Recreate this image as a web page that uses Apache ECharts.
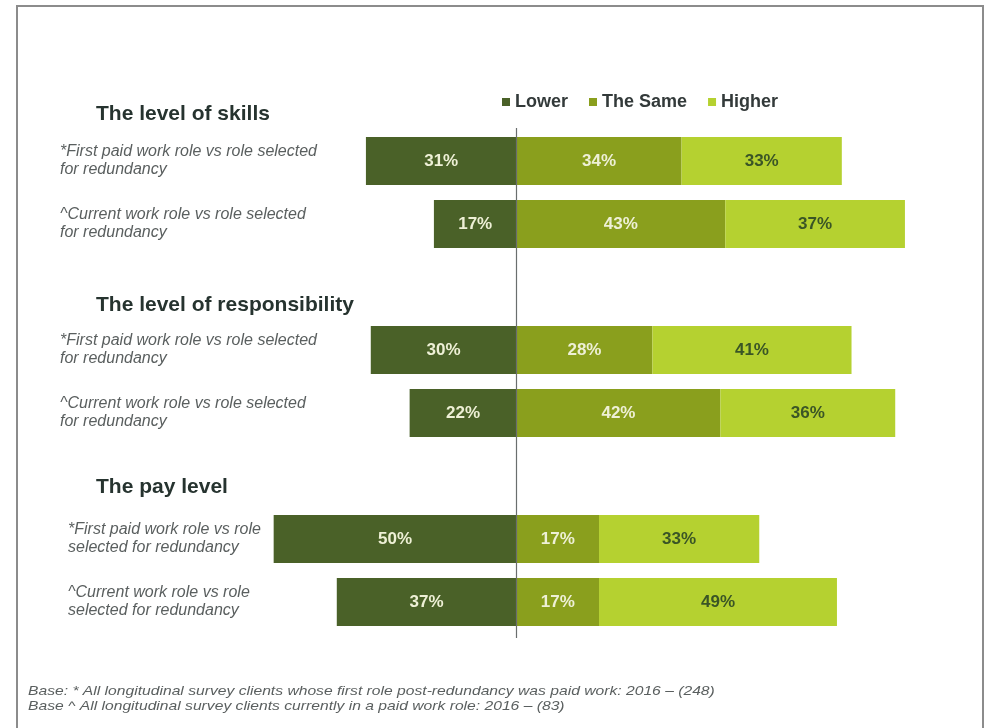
<!DOCTYPE html>
<html>
<head>
<meta charset="utf-8">
<script src="https://cdn.jsdelivr.net/npm/echarts@6/dist/echarts.min.js"></script>
<style>
  html, body { margin: 0; padding: 0; background: #ffffff; }
  #chart { width: 987px; height: 728px; }
</style>
</head>
<body>
<div id="chart"></div>
<script>
// Row labels (empty strings are spacer rows between the three sections)
const rowLabels = [
  '*First paid work role vs role selected\nfor redundancy',
  '^Current work role vs role selected\nfor redundancy',
  '',
  '*First paid work role vs role selected\nfor redundancy',
  '^Current work role vs role selected\nfor redundancy',
  '',
  '*First paid work role vs role\nselected for redundancy',
  '^Current work role vs role\nselected for redundancy'
];
const rowKeys = ['skills-first', 'skills-current', 'gap-1', 'resp-first', 'resp-current', 'gap-2', 'pay-first', 'pay-current'];

// Percentages per response
const lowerValues  = [31, 17, null, 30, 22, null, 50, 37];
const sameValues   = [34, 43, null, 28, 42, null, 17, 17];
const higherValues = [33, 37, null, 41, 36, null, 33, 49];

const seriesNames = ['Lower', 'The Same', 'Higher'];
const sectionTitles = ['The level of skills', 'The level of responsibility', 'The pay level'];
const baseNotes = [
  'Base: * All longitudinal survey clients whose first role post-redundancy was paid work: 2016 \u2013 (248)',
  'Base ^ All longitudinal survey clients currently in a paid work role: 2016 \u2013 (83)'
];

const COLORS = { lower: '#4a6128', same: '#8a9f1d', higher: '#b5d130' };
const LIGHT_LABEL = '#eef0d6';
const DARK_LABEL = '#3a5526';
const FONT = 'Liberation Sans, Arial, sans-serif';

const chart = echarts.init(document.getElementById('chart'), null, { renderer: 'canvas' });

function valueLabel(color) {
  return {
    show: true,
    position: 'inside',
    color: color,
    fontFamily: FONT,
    fontWeight: 'bold',
    fontSize: 17,
    formatter: p => (p.value == null ? '' : Math.abs(p.value) + '%')
  };
}

const option = {
  backgroundColor: '#ffffff',
  animation: false,
  legend: {
    data: seriesNames,
    left: 497,
    top: 88,
    itemWidth: 8,
    itemHeight: 8,
    itemGap: 21,
    icon: 'rect',
    textStyle: {
      fontFamily: FONT,
      fontWeight: 'bold',
      fontSize: 18,
      color: '#333a3a'
    }
  },
  grid: {
    left: 60,
    right: 33.5,
    top: 129.5,
    bottom: 94.5,
    containLabel: false,
    outerBoundsMode: 'none'
  },
  xAxis: {
    type: 'value',
    min: -94,
    max: 90,
    show: false
  },
  yAxis: {
    type: 'category',
    inverse: true,
    data: rowKeys,
    axisLine: { show: false, onZero: false },
    axisTick: { show: false },
    splitLine: { show: false },
    axisLabel: {
      show: true,
      align: 'left',
      margin: 0,
      interval: 0,
      formatter: (v, i) => {
        const txt = rowLabels[i];
        if (!txt) return '';
        // the pay level rows sit slightly further in
        const style = i >= 6 ? 'p' : 'n';
        return txt.split('\n').map(line => '{' + style + '|' + line + '}').join('\n');
      },
      rich: {
        n: {
          fontFamily: FONT,
          fontStyle: 'italic',
          fontSize: 16,
          lineHeight: 18,
          color: '#5a5f5f'
        },
        p: {
          fontFamily: FONT,
          fontStyle: 'italic',
          fontSize: 16,
          lineHeight: 18,
          color: '#5a5f5f',
          padding: [0, 0, 0, 8]
        }
      }
    }
  },
  series: [
    {
      name: 'Lower',
      type: 'bar',
      stack: 'share',
      barWidth: 48,
      itemStyle: { color: COLORS.lower },
      label: valueLabel(LIGHT_LABEL),
      data: lowerValues.map(v => (v == null ? null : -v))
    },
    {
      name: 'The Same',
      type: 'bar',
      stack: 'share',
      barWidth: 48,
      itemStyle: { color: COLORS.same },
      label: valueLabel(LIGHT_LABEL),
      data: sameValues
    },
    {
      name: 'Higher',
      type: 'bar',
      stack: 'share',
      barWidth: 48,
      itemStyle: { color: COLORS.higher },
      label: valueLabel(DARK_LABEL),
      data: higherValues
    }
  ]
};

chart.setOption(option);

// Centre divider, section headings, base notes and frame
const zeroX = chart.convertToPixel({ xAxisIndex: 0 }, 0);
const headingStyle = {
  fontFamily: FONT,
  fontWeight: 'bold',
  fontSize: 21,
  fill: '#26332f'
};
const noteStyle = {
  fontFamily: FONT,
  fontStyle: 'italic',
  fontSize: 13.5,
  fill: '#5a5f5f'
};
const headingY = [114, 305, 487];

chart.setOption({
  graphic: [
    {
      type: 'rect',
      silent: true,
      shape: { x: 17, y: 6, width: 966, height: 760 },
      style: { fill: 'none', stroke: '#8c8c8c', lineWidth: 2 }
    },
    {
      type: 'line',
      silent: true,
      z: 10,
      shape: { x1: Math.round(zeroX) + 0.5, y1: 128, x2: Math.round(zeroX) + 0.5, y2: 638 },
      style: { stroke: '#6a6e6e', lineWidth: 1.2 }
    },
    ...sectionTitles.map((t, i) => ({
      type: 'text',
      silent: true,
      x: 96,
      y: headingY[i],
      style: Object.assign({ text: t, verticalAlign: 'middle' }, headingStyle)
    })),
    // base notes are set in a wide italic: a narrower size stretched horizontally
    ...baseNotes.map((t, i) => ({
      type: 'text',
      silent: true,
      x: 28,
      y: 691 + i * 15,
      scaleX: 1.16,
      style: Object.assign({ text: t, verticalAlign: 'middle' }, noteStyle)
    }))
  ]
});
</script>
</body>
</html>
